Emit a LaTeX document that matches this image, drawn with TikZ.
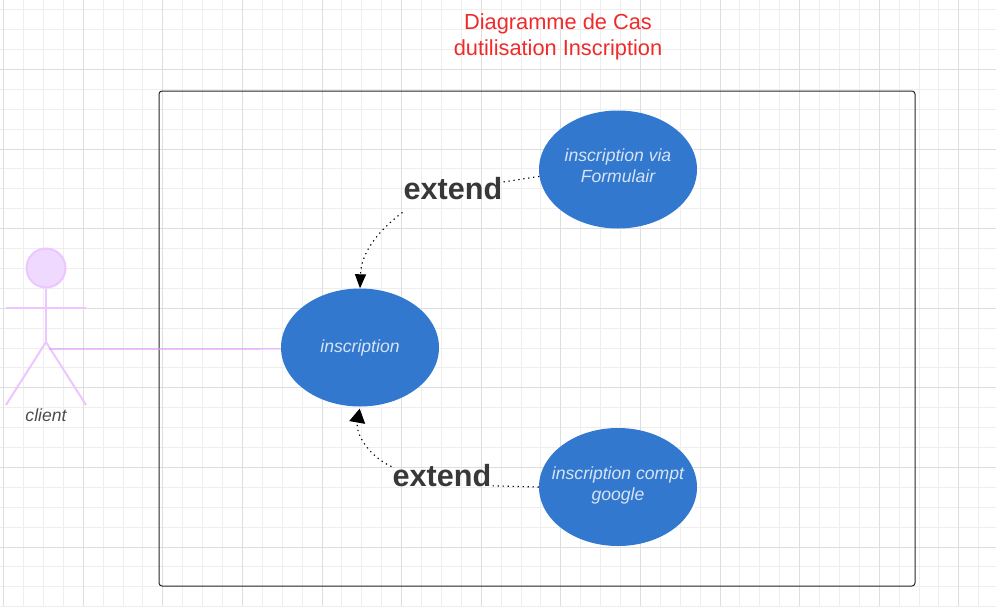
\documentclass[tikz,border=0pt]{standalone}
\usepackage{fontspec}
\setmainfont{Liberation Sans}
\usepackage{tikz}
\usetikzlibrary{shapes.geometric, arrows, arrows.meta, positioning, calc}
\definecolor{gridminor}{HTML}{EEEEEE}
\definecolor{gridmajor}{HTML}{DEDEDE}
\definecolor{usecaseblue}{HTML}{3278CE}
\definecolor{usecasetext}{HTML}{D6E4F5}
\definecolor{titlered}{HTML}{EE2A2A}
\definecolor{actorline}{HTML}{EBC6FF}
\definecolor{actorfill}{HTML}{F0D9FF}
\definecolor{assocline}{HTML}{DFA0F5}
\tikzstyle{usecase} = [ellipse, minimum width=158pt, minimum height=118pt, inner sep=-16pt, align=center, fill=usecaseblue, text=usecasetext, font=\fontsize{17.6}{21}\selectfont\itshape]
\tikzstyle{twolines} = [text depth=7pt]
\tikzstyle{extendlabel} = [inner sep=1pt, text=black!78, font=\fontsize{30.6}{34}\selectfont\bfseries]
\tikzstyle{extendline} = [dash pattern=on 1.3pt off 3.7pt, line width=1.1pt, black]
\tikzstyle{arrow} = [extendline, -{Triangle[length=14pt,width=11pt]}]
\tikzstyle{actor} = [actorline, line width=2pt]

\begin{document}
\begin{tikzpicture}[x=1pt, y=-1pt]
    \useasboundingbox (0,0) rectangle (996,606);
    % Grid
    \foreach \i in {0,...,50} {
      \draw[gridminor, line width=1pt] ({round(3.2+19.9*\i)+0.5},0) -- ({round(3.2+19.9*\i)+0.5},606);
    }
    \foreach \i in {0,...,31} {
      \draw[gridminor, line width=1pt] (0,{round(-10.6+19.9*\i)+0.5}) -- (996,{round(-10.6+19.9*\i)+0.5});
    }
    \foreach \i in {0,...,12} {
      \draw[gridmajor, line width=1pt] ({round(3.2+79.6*\i)+0.5},0) -- ({round(3.2+79.6*\i)+0.5},606);
    }
    \foreach \i in {0,...,8} {
      \draw[gridmajor, line width=1pt] (0,{round(-10.6+79.6*\i)+0.5}) -- (996,{round(-10.6+79.6*\i)+0.5});
    }

    % Title
    \node (title) [align=center, text=titlered, font=\fontsize{21.8}{26}\selectfont] at (558,37) {Diagramme de Cas\\dutilisation Inscription};

    % System box
    \node (system) [draw=black!85, rounded corners=3pt, line width=1pt, minimum width=756pt, minimum height=495pt, inner sep=0pt] at (537,338.5) {};

    % Use cases
    \node (inscription) [usecase] at (360,347.5) {inscription};
    \node (formulaire) [usecase, twolines] at (618,169.5) {inscription via\\Formulair};
    \node (google) [usecase, twolines] at (618,487) {inscription compt\\google};

    % Actor
    \node (head) [circle, draw=actorline, fill=actorfill, line width=2pt, minimum size=39pt, inner sep=0pt] at (46,268) {};
    \coordinate (hip) at (46,342);
    \coordinate (handleft) at (6,307.5);
    \coordinate (handright) at (86,307.5);
    \coordinate (footleft) at (6,405);
    \coordinate (footright) at (86,405);
    \coordinate (assocstart) at (49,349);
    \draw[actor] (head.south) -- (hip);
    \draw[actor] (handleft) -- (handright);
    \draw[actor] (footleft) -- (hip) -- (footright);
    \node (client) [text=black!70, font=\fontsize{17.6}{21}\selectfont\itshape] at (46,415) {client};

    % Association
    \draw[assocline, line width=1.2pt] (assocstart) -- (inscription.181);

    % Extend labels
    \node (extendtop) [extendlabel] at (453,189) {extend};
    \node (extendbottom) [extendlabel] at (442,476) {extend};

    % Arrows connecting steps
    \draw[extendline] (formulaire.185) -- (extendtop.8);
    \draw[arrow] ([yshift=-11pt]extendtop.south west) to[out=217, in=88] (inscription.north);
    \draw[extendline] (google.west) -- (extendbottom.-11);
    \draw[arrow, -{Triangle[length=14pt,width=16pt]}, shorten >=2pt] ([yshift=-3pt]extendbottom.north west) to[out=155, in=-100] (inscription.south);
\end{tikzpicture}
\end{document}
